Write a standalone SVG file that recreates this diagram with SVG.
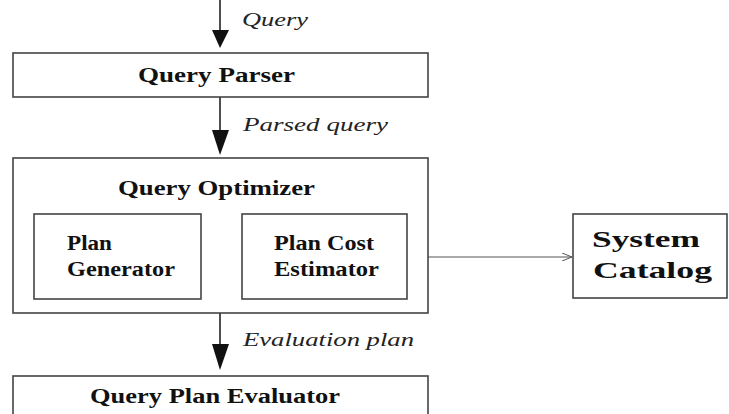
<svg xmlns="http://www.w3.org/2000/svg" width="729" height="414" viewBox="0 0 729 414">
<defs>
<marker id="oa" viewBox="0 0 10 8" refX="10" refY="4" markerWidth="10" markerHeight="8" markerUnits="userSpaceOnUse" orient="auto">
<path d="M0,0 L10,4 L0,8" fill="none" stroke="#555" stroke-width="1"/>
</marker>
</defs>
<style>
.box{fill:#fff;stroke:#444;stroke-width:1.6}
text{font-family:'Liberation Serif','Times New Roman',Times,serif}
.b{font-weight:bold;font-size:20px;fill:#111}
.bl{font-weight:bold;font-size:24px;fill:#111}
.i{font-style:italic;font-size:19px;fill:#222}
.ar{stroke:#222;stroke-width:1.6;fill:none}
</style>
<rect width="729" height="414" fill="#fff"/>
<g id="connectors">
<line class="ar" x1="220" y1="0" x2="220" y2="32"/>
<path d="M212,30 L229,30 L220,48 Z" fill="#111"/>
<line class="ar" x1="220" y1="97" x2="220" y2="134"/>
<path d="M212,130 L229,130 L220,155 Z" fill="#111"/>
<line class="ar" x1="220" y1="313" x2="220" y2="348"/>
<path d="M212,344 L229,344 L220,370 Z" fill="#111"/>
<line x1="407" y1="257" x2="572" y2="257" stroke="#555" stroke-width="1" marker-end="url(#oa)"/>
<text class="i" x="242" y="26" textLength="66" lengthAdjust="spacingAndGlyphs">Query</text>
<text class="i" x="243" y="131" textLength="145" lengthAdjust="spacingAndGlyphs">Parsed query</text>
<text class="i" x="243" y="346" textLength="171" lengthAdjust="spacingAndGlyphs">Evaluation plan</text>
</g>
<g id="query-parser">
<rect class="box" x="13" y="53" width="415" height="44"/>
<text class="b" x="138" y="82" textLength="157" lengthAdjust="spacingAndGlyphs">Query Parser</text>
</g>
<g id="query-optimizer">
<rect class="box" x="13" y="158" width="415" height="155"/>
<text class="b" x="118" y="195" textLength="197" lengthAdjust="spacingAndGlyphs">Query Optimizer</text>
</g>
<g id="plan-generator">
<rect class="box" x="34" y="214" width="167" height="85"/>
<text class="b" x="67" y="250" textLength="45" lengthAdjust="spacingAndGlyphs">Plan</text>
<text class="b" x="67" y="276" textLength="108" lengthAdjust="spacingAndGlyphs">Generator</text>
</g>
<g id="plan-cost-estimator">
<rect class="box" x="242" y="214" width="165" height="85"/>
<text class="b" x="274" y="250" textLength="100" lengthAdjust="spacingAndGlyphs">Plan Cost</text>
<text class="b" x="274" y="276" textLength="105" lengthAdjust="spacingAndGlyphs">Estimator</text>
</g>
<g id="system-catalog">
<rect class="box" x="573" y="214" width="154" height="84"/>
<text class="bl" x="592" y="247" textLength="108" lengthAdjust="spacingAndGlyphs">System</text>
<text class="bl" x="593" y="278" textLength="119" lengthAdjust="spacingAndGlyphs">Catalog</text>
</g>
<g id="query-plan-evaluator">
<rect class="box" x="13" y="376" width="415" height="50"/>
<text class="b" x="90" y="403" textLength="250" lengthAdjust="spacingAndGlyphs">Query Plan Evaluator</text>
</g>
</svg>
